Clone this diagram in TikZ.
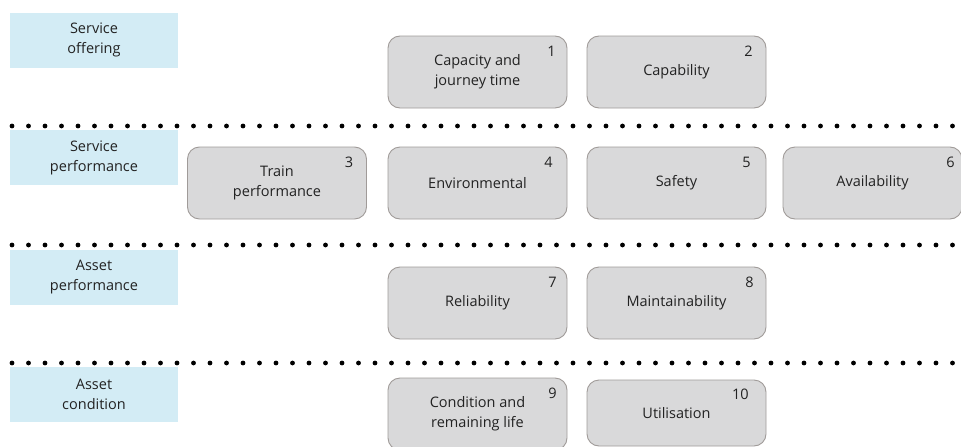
\documentclass[tikz,border=0pt]{standalone}
\usepackage{fontspec}
\setmainfont{Open Sans}
\usetikzlibrary{positioning}

\definecolor{blueKPI}{HTML}{d3ecf5}
\definecolor{greyKPI}{HTML}{d9d9da}
\definecolor{edgeKPI}{HTML}{a09b99}
\definecolor{textKPI}{HTML}{222222}

\tikzset{
  labelbox/.style={fill=blueKPI, minimum width=168pt, minimum height=55pt,
    align=center, text=textKPI, inner sep=0pt},
  kpibox/.style={fill=greyKPI, draw=edgeKPI, line width=0.9pt,
    rounded corners=12pt, minimum width=179pt, minimum height=72pt,
    align=center, text=textKPI, inner sep=0pt},
  kpinum/.style={text=textKPI, inner sep=0pt}
}

\begin{document}
\begin{tikzpicture}[x=1pt, y=-1pt, font=\fontsize{14.5}{20}\selectfont]

\useasboundingbox (0,0) rectangle (961,447);

% dotted separators
\foreach \y in {126,245,363} {
 \foreach \k in {0,1,...,57} {
  \fill[black] (12+\k*16.5,\y) circle (2.4pt);
 }
}

% level labels
\node[labelbox] (offering) at (94,40) {Service\\offering};
\node[labelbox] (servperf) at (94,157.5) {Service\\performance};
\node[labelbox] (assetperf) at (94,277.5) {Asset\\performance};
\node[labelbox] (assetcond) at (94,394.5) {Asset\\condition};

% measures
\node[kpibox] (capacity) at (477.5,72) {Capacity and\\journey time};
\node[kpibox] (capability) at (676.5,72) {Capability};

\node[kpibox] (train) at (277,183) {Train\\performance};
\node[kpibox] (environ) at (477.5,183) {Environmental};
\node[kpibox] (safety) at (676.5,183) {Safety};
\node[kpibox] (avail) at (872.5,183) {Availability};

\node[kpibox] (reliab) at (477.5,303) {Reliability};
\node[kpibox] (maintain) at (676.5,303) {Maintainability};

\node[kpibox] (condition) at (477.5,414) {Condition and\\remaining life};
\node[kpibox, minimum height=66pt] (utilise) at (676.5,413) {Utilisation};

% numbers
\node[kpinum] (n1) at ([xshift=-16pt,yshift=-16pt]capacity.north east) {1};
\node[kpinum] (n2) at ([xshift=-18pt,yshift=-16pt]capability.north east) {2};
\node[kpinum] (n3) at ([xshift=-18pt,yshift=-16pt]train.north east) {3};
\node[kpinum] (n4) at ([xshift=-19pt,yshift=-16pt]environ.north east) {4};
\node[kpinum] (n5) at ([xshift=-20pt,yshift=-16pt]safety.north east) {5};
\node[kpinum] (n6) at ([xshift=-12pt,yshift=-16pt]avail.north east) {6};
\node[kpinum] (n7) at ([xshift=-15pt,yshift=-16pt]reliab.north east) {7};
\node[kpinum] (n8) at ([xshift=-17pt,yshift=-16pt]maintain.north east) {8};
\node[kpinum] (n9) at ([xshift=-15pt,yshift=-16pt]condition.north east) {9};
\node[kpinum] (n10) at ([xshift=-26pt,yshift=-15pt]utilise.north east) {10};
\end{tikzpicture}
\end{document}
